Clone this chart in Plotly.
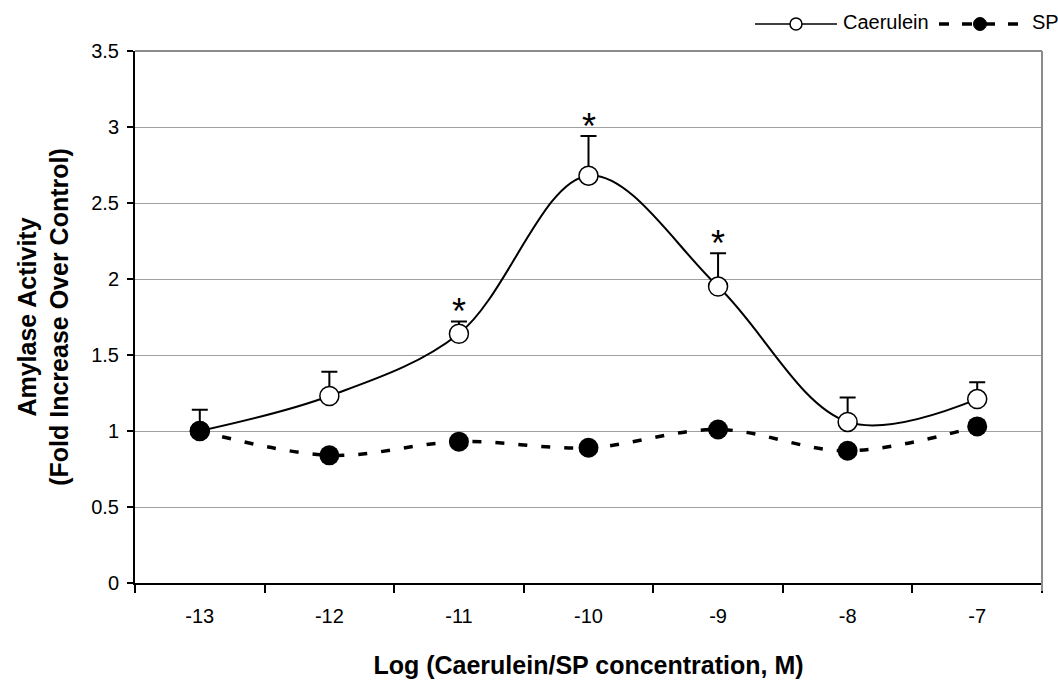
import plotly.graph_objects as go

categories = ["-13", "-12", "-11", "-10", "-9", "-8", "-7"]
caerulein = [1.00, 1.23, 1.64, 2.68, 1.95, 1.06, 1.21]
caerulein_err = [0.14, 0.16, 0.08, 0.26, 0.22, 0.16, 0.11]
sp = [1.00, 0.84, 0.93, 0.89, 1.01, 0.87, 1.03]
significant = ["-11", "-10", "-9"]
series_names = ["Caerulein", "SP"]

FONT = "Liberation Sans, Arial, sans-serif"

# plot-area geometry (pixels) used for the hand-drawn legend
L, R, T, B = 135, 1042, 51, 583
W, H = 1058, 684


def px(x):
    return (x - L) / (R - L)


def py(y):
    return (B - y) / (B - T)


fig = go.Figure()
fig.add_trace(go.Scatter(
    x=categories, y=caerulein, name=series_names[0], mode="lines+markers",
    line=dict(color="black", width=2, shape="spline", smoothing=1),
    marker=dict(symbol="circle", size=19, color="white", line=dict(color="black", width=1.5)),
    error_y=dict(type="data", array=caerulein_err, arrayminus=[0] * len(caerulein_err),
                 symmetric=False, color="black", thickness=2, width=8),
    showlegend=False,
))
fig.add_trace(go.Scatter(
    x=categories, y=sp, name=series_names[1], mode="lines+markers",
    line=dict(color="black", width=3.5, dash="9px,14px", shape="spline", smoothing=1),
    marker=dict(symbol="circle", size=20, color="black"),
    showlegend=False,
))

for c in significant:
    i = categories.index(c)
    fig.add_annotation(x=i, y=caerulein[i] + caerulein_err[i], text="*", showarrow=False,
                       yanchor="middle", yshift=10, font=dict(family=FONT, size=36, color="black"))

# plot-area border (right and top) in grey
fig.add_shape(type="line", xref="paper", yref="paper", x0=1, x1=1, y0=-8 / (B - T), y1=1,
              line=dict(color="#8c8c8c", width=2))
fig.add_shape(type="line", xref="paper", yref="paper", x0=0, x1=1, y0=1, y1=1,
              line=dict(color="#8c8c8c", width=2))

# legend (drawn by hand to reproduce the long line samples)
ly = py(24)
fig.add_shape(type="line", xref="paper", yref="paper", x0=px(755), x1=px(837), y0=ly, y1=ly,
              line=dict(color="black", width=1.5))
fig.add_shape(type="circle", xref="paper", yref="paper", xsizemode="pixel", ysizemode="pixel",
              xanchor=px(796), yanchor=ly, x0=-6, x1=6, y0=-6, y1=6,
              fillcolor="white", line=dict(color="black", width=1.5))
fig.add_annotation(xref="paper", yref="paper", x=px(841), y=py(22), xanchor="left", yanchor="middle",
                   text=series_names[0], showarrow=False, font=dict(family=FONT, size=20, color="black"))
fig.add_shape(type="line", xref="paper", yref="paper", x0=px(939), x1=px(1024), y0=ly, y1=ly,
              line=dict(color="black", width=3.5, dash="10px,13px"))
fig.add_shape(type="circle", xref="paper", yref="paper", xsizemode="pixel", ysizemode="pixel",
              xanchor=px(980), yanchor=ly, x0=-6.5, x1=6.5, y0=-6.5, y1=6.5,
              fillcolor="black", line=dict(color="black", width=1))
fig.add_annotation(xref="paper", yref="paper", x=px(1030), y=py(22), xanchor="left", yanchor="middle",
                   text=series_names[1], showarrow=False, font=dict(family=FONT, size=20, color="black"))

fig.update_layout(
    width=W, height=H,
    margin=dict(l=L, r=W - R, t=T, b=H - B),
    plot_bgcolor="white", paper_bgcolor="white",
    font=dict(family=FONT, color="black", size=20),
    showlegend=False,
    xaxis=dict(
        type="category", range=[-0.5, 6.5], tickson="boundaries",
        ticks="outside", ticklen=8, tickcolor="black", tickwidth=1.5,
        showline=True, linecolor="black", linewidth=2, showgrid=False,
        tickfont=dict(size=20), ticklabelstandoff=14,
        title=dict(text="<b>Log (Caerulein/SP concentration, M)</b>", font=dict(size=25), standoff=30),
        automargin=False,
    ),
    yaxis=dict(
        range=[0, 3.5], dtick=0.5,
        ticks="outside", ticklen=6, tickcolor="black", tickwidth=1.5,
        showline=True, linecolor="black", linewidth=2,
        showgrid=True, gridcolor="#a0a0a0", gridwidth=1, zeroline=False,
        tickfont=dict(size=20), ticklabelstandoff=4,
        title=dict(text="<b>Amylase Activity<br>(Fold Increase Over Control)</b>", font=dict(size=25), standoff=15),
        automargin=False,
    ),
)

fig.write_html("out.html")
